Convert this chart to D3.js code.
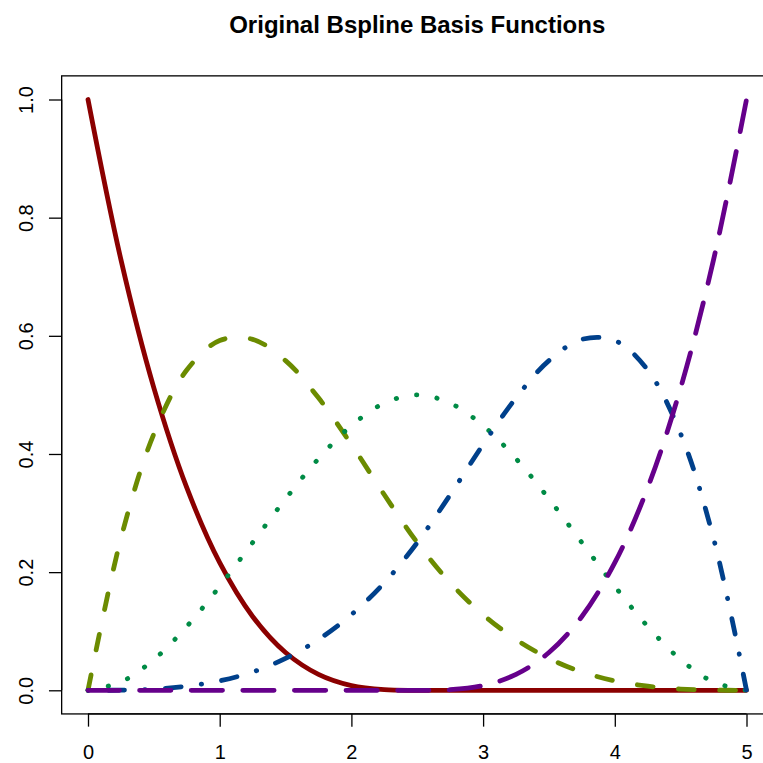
<!DOCTYPE html>
<html>
<head>
<meta charset="utf-8">
<script src="https://cdn.jsdelivr.net/npm/d3@7"></script>
<style>
  html, body { margin: 0; padding: 0; background: #fff; }
  svg { display: block; }
</style>
</head>
<body>
<svg id="chart" width="763" height="763"></svg>
<script>
// Cubic B-spline basis on [0, 5] with one interior knot at 2.5,
// sampled every 0.25.
const xs = [0, 0.25, 0.5, 0.75, 1, 1.25, 1.5, 1.75, 2, 2.25, 2.5,
            2.75, 3, 3.25, 3.5, 3.75, 4, 4.25, 4.5, 4.75, 5];

const basis1 = [1, 0.729, 0.512, 0.343, 0.216, 0.125, 0.064, 0.027, 0.008, 0.001, 0,
                0, 0, 0, 0, 0, 0, 0, 0, 0, 0];
const basis2 = [0, 0.257, 0.434, 0.542, 0.592, 0.594, 0.558, 0.495, 0.416, 0.331, 0.25,
                0.182, 0.128, 0.086, 0.054, 0.031, 0.016, 0.007, 0.002, 0.0003, 0];
const basis3 = [0, 0.014, 0.052, 0.108, 0.176, 0.25, 0.324, 0.392, 0.448, 0.486, 0.5,
                0.486, 0.448, 0.392, 0.324, 0.25, 0.176, 0.108, 0.052, 0.014, 0];
const basis4 = [0, 0.0003, 0.002, 0.007, 0.016, 0.031, 0.054, 0.086, 0.128, 0.182, 0.25,
                0.331, 0.416, 0.495, 0.558, 0.594, 0.592, 0.542, 0.434, 0.257, 0];
const basis5 = [0, 0, 0, 0, 0, 0, 0, 0, 0, 0, 0,
                0.001, 0.008, 0.027, 0.064, 0.125, 0.216, 0.343, 0.512, 0.729, 1];

const xTicks = [0, 1, 2, 3, 4, 5];
const yTicks = [0, 0.2, 0.4, 0.6, 0.8, 1.0];
const titleText = "Original Bspline Basis Functions";

// R-style line types, expressed in units of the line width
const seriesList = [
  { values: basis1, color: "#8b0000", lty: null },          // solid
  { values: basis2, color: "#6b8b00", lty: [4, 4] },        // dashed
  { values: basis3, color: "#008b45", lty: [1, 3] },        // dotted
  { values: basis4, color: "#00408b", lty: [1, 3, 4, 3] },  // dot-dash
  { values: basis5, color: "#66008b", lty: [7, 3] }         // long dash
];

const svg = d3.select("#chart");
const fontFamily = "'Liberation Sans', Arial, Helvetica, sans-serif";

const x = d3.scaleLinear().domain([0, 5]).range([88, 746.5]);
const y = d3.scaleLinear().domain([0, 1]).range([690.3, 99.5]);

// plot region extends 4% beyond the data range on each side
const boxLeft = x(-0.2), boxRight = x(5.2), boxTop = y(1.04), boxBottom = y(-0.04);

const lineW = 4.8;
const unit = 5.16;

// Convert an on/off pattern to a dash array for round-capped strokes
function dashArray(lty) {
  if (!lty) return null;
  return lty.map((d, i) => i % 2 === 0 ? Math.max(d * unit - lineW, 0.1) : d * unit + lineW).join(",");
}

const line = d3.line()
  .x(d => x(d[0]))
  .y(d => y(d[1]))
  .curve(d3.curveCatmullRom.alpha(0.5));

const plot = svg.append("g");
seriesList.forEach(s => {
  plot.append("path")
    .datum(xs.map((xv, i) => [xv, s.values[i]]))
    .attr("d", line)
    .attr("fill", "none")
    .attr("stroke", s.color)
    .attr("stroke-width", lineW)
    .attr("stroke-linecap", "round")
    .attr("stroke-linejoin", "round")
    .attr("stroke-dasharray", dashArray(s.lty));
});

// frame
svg.append("rect")
  .attr("x", boxLeft).attr("y", boxTop)
  .attr("width", boxRight - boxLeft).attr("height", boxBottom - boxTop)
  .attr("fill", "none").attr("stroke", "#000").attr("stroke-width", 1.3);

// x axis
const xAxis = svg.append("g").attr("transform", `translate(0,${boxBottom})`)
  .call(d3.axisBottom(x).tickValues(xTicks).tickFormat(d3.format("d"))
    .tickSize(12.7).tickPadding(0).tickSizeOuter(0));
xAxis.select(".domain").attr("stroke", "#000").attr("stroke-width", 1.3)
  .attr("d", `M${x(0)},0H${x(5)}`);
xAxis.selectAll(".tick line").attr("stroke", "#000").attr("stroke-width", 1.3);
xAxis.selectAll(".tick text")
  .attr("y", 759 - boxBottom).attr("dy", null)
  .attr("fill", "#000")
  .style("font-family", fontFamily).style("font-size", "20px");

// y axis, labels rotated as in base R graphics
const yAxis = svg.append("g").attr("transform", `translate(${boxLeft},0)`)
  .call(d3.axisLeft(y).tickValues(yTicks).tickFormat(d3.format(".1f"))
    .tickSize(12.7).tickPadding(0).tickSizeOuter(0));
yAxis.select(".domain").attr("stroke", "#000").attr("stroke-width", 1.3)
  .attr("d", `M0,${y(0)}V${y(1)}`);
yAxis.selectAll(".tick line").attr("stroke", "#000").attr("stroke-width", 1.3);
yAxis.selectAll(".tick text")
  .attr("x", null).attr("dy", null)
  .attr("transform", `translate(${32.7 - boxLeft},0) rotate(-90)`)
  .attr("text-anchor", "middle")
  .attr("fill", "#000")
  .style("font-family", fontFamily).style("font-size", "20px");

// title
svg.append("text")
  .attr("x", (boxLeft + boxRight) / 2).attr("y", 33)
  .attr("text-anchor", "middle")
  .style("font-family", fontFamily).style("font-size", "24px").style("font-weight", "bold")
  .attr("fill", "#000")
  .text(titleText);
</script>
</body>
</html>
